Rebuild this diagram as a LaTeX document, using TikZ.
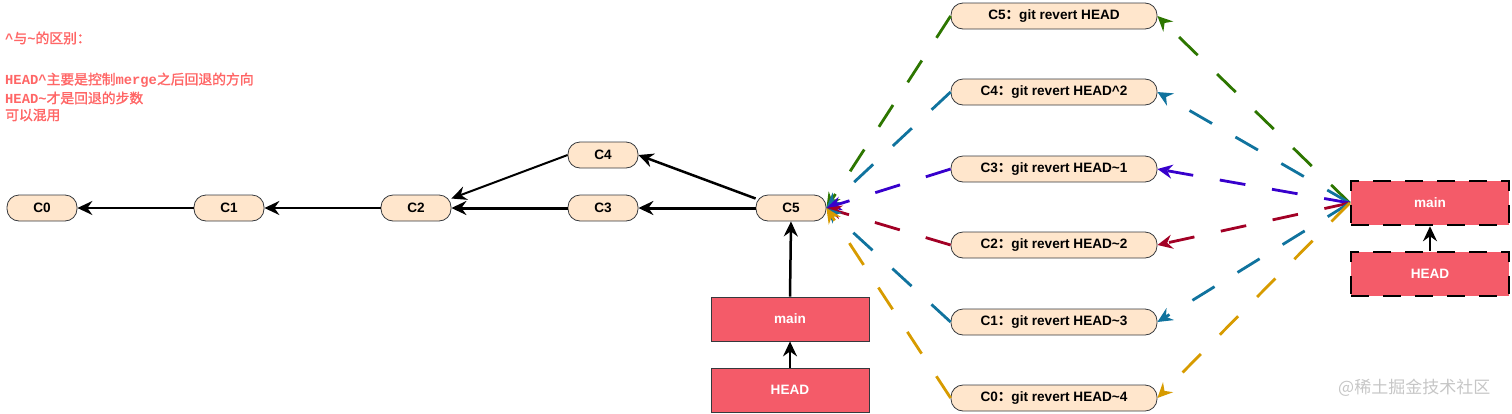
\documentclass[tikz,border=0pt]{standalone}
\usepackage{fontspec}
\setmainfont{Liberation Sans}
\setmonofont{Liberation Mono}
\newfontfamily\cjk{Noto Sans CJK SC}
\newfontfamily\cjkb{Noto Sans CJK SC}[FakeBold=1.5]
\newcommand\zhb[1]{{\cjkb #1}}
\newcommand\mtt[1]{{\ttfamily\bfseries #1}}
\newcommand\fcol{{\cjk ：}}
\usetikzlibrary{arrows.meta}
\definecolor{cfill}{HTML}{FFE6CC}
\definecolor{cdraw}{HTML}{36393D}
\definecolor{rfill}{HTML}{F45B69}
\definecolor{tred}{HTML}{FF6666}
\definecolor{cgreen}{HTML}{2D7600}
\definecolor{cblue}{HTML}{10739E}
\definecolor{cindigo}{HTML}{3700CC}
\definecolor{ccrimson}{HTML}{A20025}
\definecolor{cgold}{HTML}{D79B00}
\tikzset{
  commit/.style={draw=cdraw, fill=cfill, rounded corners=12pt, minimum width=70pt, minimum height=26pt, inner sep=0pt, line width=0.8pt, font=\bfseries\fontsize{13.6}{15}\selectfont},
  revert/.style={commit, minimum width=206pt},
  refbox/.style={draw=cdraw, fill=rfill, minimum width=158pt, minimum height=44pt, inner sep=0pt, line width=0.8pt, text=white, font=\bfseries\fontsize{13.6}{15}\selectfont},
  refdash/.style={refbox, draw=black, line width=2.5pt, dash pattern=on 18pt off 14pt},
  tip/.style={-{Stealth[length=15pt,width=14pt,inset=5pt]}},
  blk/.style={tip, line width=2pt, black},
  dsh/.style={tip, line width=2.8pt, dash pattern=on 26pt off 27pt},
  note/.style={anchor=west, text=tred, inner sep=0pt, font=\fontsize{13.8}{16}\selectfont},
}
\begin{document}
\begin{tikzpicture}[x=1pt,y=-1pt]
\useasboundingbox (0,0) rectangle (1512,413);
% notes
\node[note] (t1) at (5,38) {\mtt{\textasciicircum}\zhb{与}\mtt{\textasciitilde}\zhb{的区别：}};
\node[note] (t2) at (5,80) {\mtt{HEAD\textasciicircum}\zhb{主要是控制}\mtt{merge}\zhb{之后回退的方向}};
\node[note] (t3) at (5,98) {\mtt{HEAD\textasciitilde}\zhb{才是回退的步数}};
\node[note] (t4) at (5,115) {\zhb{可以混用}};
% commits
\node[commit] (c0) at (42,208) {C0};
\node[commit] (c1) at (229,208) {C1};
\node[commit] (c2) at (416,208) {C2};
\node[commit] (c3) at (603,208) {C3};
\node[commit] (c4) at (603,155) {C4};
\node[commit] (c5) at (791,208) {C5};
\node[refbox] (main) at (790,319) {main};
\node[refbox] (head) at (790,390) {HEAD};
% reverts
\node[revert] (r5) at (1054,16) {C5\fcol git revert HEAD};
\node[revert] (r4) at (1054,92) {C4\fcol git revert HEAD\textasciicircum 2};
\node[revert] (r3) at (1054,169) {C3\fcol git revert HEAD\textasciitilde 1};
\node[revert] (r2) at (1054,245) {C2\fcol git revert HEAD\textasciitilde 2};
\node[revert] (r1) at (1054,322) {C1\fcol git revert HEAD\textasciitilde 3};
\node[revert] (r0) at (1054,398) {C0\fcol git revert HEAD\textasciitilde 4};
% right refs
\node[refdash] (rmain) at (1430,203) {main};
\node[refdash] (rhead) at (1430,274) {HEAD};
% black arrows
\draw[blk] (c1.west) -- (c0.east);
\draw[blk] (c2.west) -- (c1.east);
\draw[blk, line width=3pt] (c3.west) -- (c2.east);
\draw[blk] (c4.west) -- (c2.15);
\draw[blk, line width=2.5pt] (c5.165) -- (c4.east);
\draw[blk, line width=3pt] (c5.west) -- (c3.east);
\draw[blk, line width=2.5pt] (main.north) -- (c5.south);
\draw[blk] (head.north) -- (main.south);
\draw[blk] (rhead.north) -- (rmain.south);
% dashed revert arrows
\draw[dsh, cgreen] (r5.west) -- (c5.east);
\draw[dsh, cblue] (r4.west) -- (c5.east);
\draw[dsh, cindigo] (r3.west) -- (c5.east);
\draw[dsh, ccrimson] (r2.west) -- (c5.east);
\draw[dsh, cblue] (r1.west) -- (c5.east);
\draw[dsh, cgold] (r0.west) -- (c5.east);
\draw[dsh, cgreen] (rmain.west) -- (r5.east);
\draw[dsh, cblue] (rmain.west) -- (r4.east);
\draw[dsh, cindigo] (rmain.west) -- (r3.east);
\draw[dsh, ccrimson] (rmain.west) -- (r2.east);
\draw[dsh, cblue] (rmain.west) -- (r1.east);
\draw[dsh, cgold] (rmain.west) -- (r0.east);
% watermark
\node[anchor=west, inner sep=0pt, text=gray!45, font=\cjk\fontsize{17}{17}\selectfont] (wm) at (1338,388) {@稀土掘金技术社区};
\end{tikzpicture}
\end{document}
